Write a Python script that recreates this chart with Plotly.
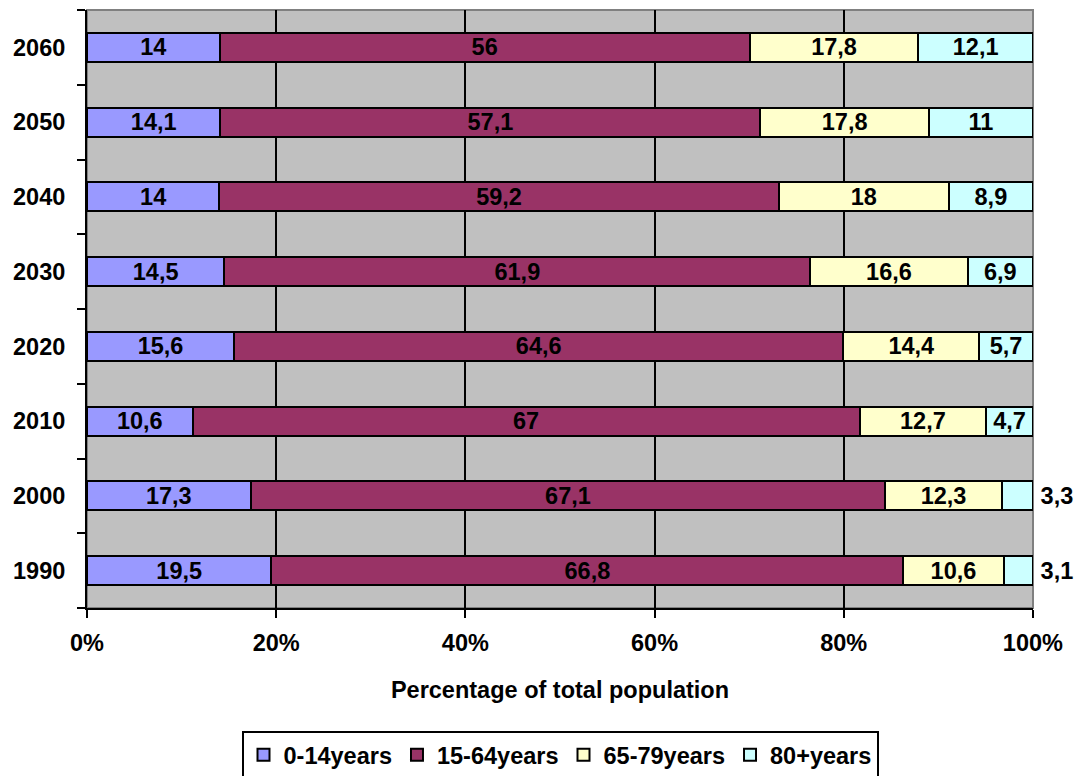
import plotly.graph_objects as go

# Population structure by age group, share of total population (%)
years = ["1990", "2000", "2010", "2020", "2030", "2040", "2050", "2060"]
age_0_14 = [19.5, 17.3, 10.6, 15.6, 14.5, 14.0, 14.1, 14.0]
age_15_64 = [66.8, 67.1, 67.0, 64.6, 61.9, 59.2, 57.1, 56.0]
age_65_79 = [10.6, 12.3, 12.7, 14.4, 16.6, 18.0, 17.8, 17.8]
age_80_plus = [3.1, 3.3, 4.7, 5.7, 6.9, 8.9, 11.0, 12.1]

series_names = ["0-14years", "15-64years", "65-79years", "80+years"]
series_colors = ["#9999FF", "#993366", "#FFFFCC", "#CCFFFF"]
x_ticks = [0, 20, 40, 60, 80, 100]
x_tick_labels = [f"{t}%" for t in x_ticks]

FONT = "Liberation Sans, Arial, sans-serif"
LABEL_SIZE = 23.5


def fmt(v):
    return f"{v:g}".replace(".", ",")


fig = go.Figure()
for name, color, vals in zip(series_names, series_colors,
                             [age_0_14, age_15_64, age_65_79, age_80_plus]):
    # narrow segments carry their label just past the end of the bar
    positions = ["outside" if v < 4 else "inside" for v in vals]
    fig.add_trace(go.Bar(
        y=years, x=vals, name=name, orientation="h",
        marker=dict(color=color, line=dict(color="black", width=2)),
        text=[("\u2009" + fmt(v)) if p == "outside" else fmt(v)
              for v, p in zip(vals, positions)],
        textposition=positions,
        textangle=0,
        insidetextanchor="middle",
        constraintext="none",
        cliponaxis=False,
        textfont=dict(family=FONT, size=LABEL_SIZE, color="black", weight="bold"),
        hoverinfo="skip",
    ))

fig.update_layout(
    width=1077, height=776,
    margin=dict(l=87, r=44, t=10, b=168),
    barmode="stack", barnorm="percent", bargap=0.61,
    plot_bgcolor="#C0C0C0", paper_bgcolor="white",
    font=dict(family=FONT, size=LABEL_SIZE, color="black", weight="bold"),
    showlegend=True,
    legend=dict(
        orientation="h", x=0.5, xanchor="center",
        yref="container", y=0.058, yanchor="top",
        bordercolor="black", borderwidth=2, bgcolor="white",
        font=dict(family=FONT, size=LABEL_SIZE, color="black", weight="bold"),
        traceorder="normal", itemwidth=30,
    ),
    xaxis=dict(
        # a hair past 100 keeps the labels of full-width stacks visible
        range=[0, 100.01], tickmode="array", tickvals=x_ticks, ticktext=x_tick_labels,
        showgrid=True, gridcolor="black", gridwidth=1.5,
        zeroline=False, automargin=False,
        showline=True, linecolor="black", linewidth=2,
        ticks="outside", ticklen=8, tickwidth=2, tickcolor="black",
        ticklabelstandoff=5,
        title=dict(text="Percentage of total population", standoff=26,
                   font=dict(family=FONT, size=LABEL_SIZE, weight="bold")),
    ),
    yaxis=dict(
        type="category", categoryorder="array", categoryarray=years,
        tickson="boundaries", showgrid=False, automargin=False,
        showline=True, linecolor="black", linewidth=2,
        ticks="outside", ticklen=8, tickwidth=2, tickcolor="black",
        ticklabelstandoff=15,
    ),
    shapes=[dict(
        type="rect", xref="paper", yref="paper", x0=0, x1=1, y0=0, y1=1,
        line=dict(color="#808080", width=2), fillcolor="rgba(0,0,0,0)",
        layer="between",
    )],
)

fig.write_html("out.html")
